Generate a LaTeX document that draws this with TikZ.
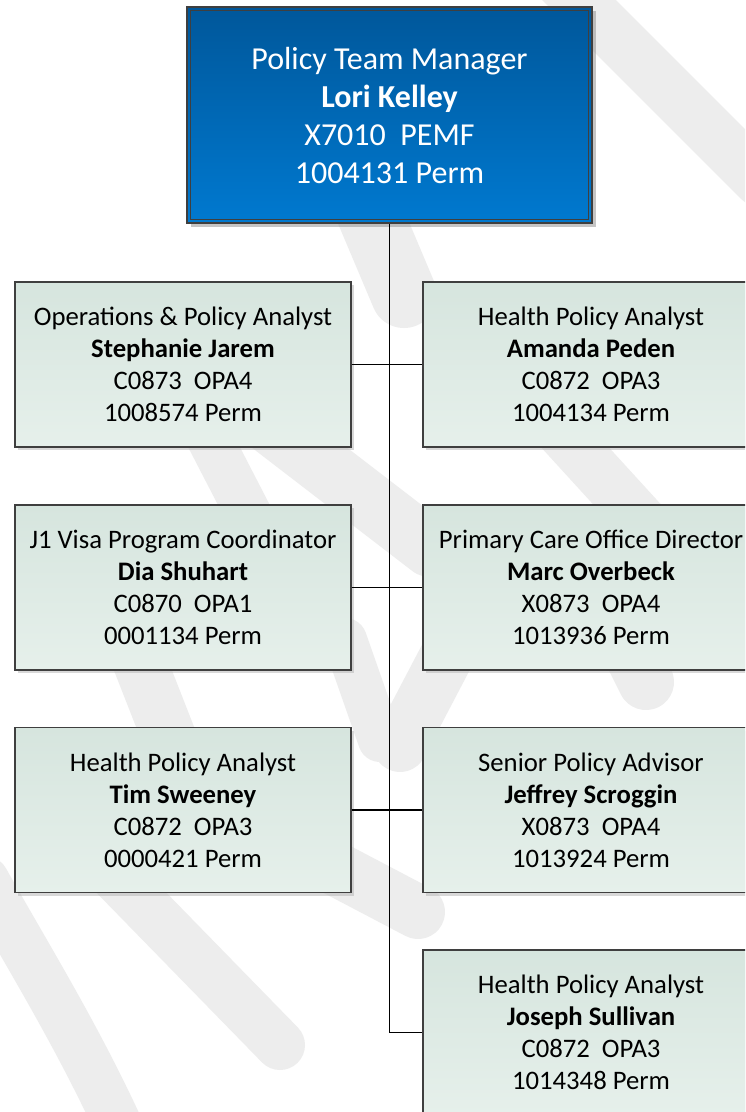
\documentclass[tikz,border=0pt]{standalone}
\usepackage{fontspec}
\setmainfont{Carlito}
\usetikzlibrary{positioning,shadows}

\definecolor{mgrtop}{HTML}{00579A}
\definecolor{mgrbot}{HTML}{0079D0}
\definecolor{stafftop}{HTML}{D6E5DE}
\definecolor{staffbot}{HTML}{E6F0EB}
\definecolor{edgegray}{HTML}{3F3F3F}
\definecolor{wgray}{HTML}{EDEDED}

\begin{document}
\begin{tikzpicture}[x=1pt, y=-1pt,
    staff/.style={rectangle, draw=edgegray, line width=1.1pt,
        top color=stafftop, bottom color=staffbot,
        minimum width=336pt, minimum height=165pt, align=center,
        font=\fontsize{26.7}{32}\selectfont,
        drop shadow={shadow xshift=3pt, shadow yshift=-3pt, fill=black!30}},
    boss/.style={rectangle, draw=edgegray, line width=1.4pt,
        top color=mgrtop, bottom color=mgrbot, text=white,
        minimum width=405pt, minimum height=216pt, align=center,
        font=\fontsize{32}{38}\selectfont,
        drop shadow={shadow xshift=4pt, shadow yshift=-4pt, fill=black!45}},
    wstroke/.style={draw=wgray, line cap=round},
    link/.style={line width=1.8pt}]
    \clip (0,0) rectangle (745,1112);
    \fill[white] (0,0) rectangle (745,1112);

    % watermark strokes
    \draw[wstroke, line width=52pt] (560,-19) -- (760,181);
    \draw[wstroke, line width=66pt] (366,205) -- (404,295);
    \draw[wstroke, line width=46pt] (200,420) -- (262,540);
    \draw[wstroke, line width=58pt] (270,425) -- (430,548);
    \draw[wstroke, line width=50pt] (550,420) -- (655,535);
    \draw[wstroke, line width=54pt] (133,645) -- (180,765);
    \draw[wstroke, line width=44pt] (345,640) -- (380,740);
    \draw[wstroke, line width=54pt] (455,640) -- (400,745);
    \draw[wstroke, line width=56pt] (610,610) -- (646,682);
    \draw[wstroke, line width=48pt] (-15,880) .. controls (30,960) and (80,1040) .. (125,1140);
    \draw[wstroke, line width=50pt] (80,840) -- (280,1045);
    \draw[wstroke, line width=54pt] (300,850) -- (418,912);

    \node[boss] (mgr) at (389.5,115) {Policy Team Manager\\\textbf{Lori Kelley}\\X7010~~PEMF\\1004131 Perm};
    \draw[edgegray, line width=1.1pt] ([shift={(4pt,-4pt)}]mgr.north west) rectangle ([shift={(-4pt,4pt)}]mgr.south east);

    \node[staff] (sj) at (183,364.5) {Operations \& Policy Analyst\\\textbf{Stephanie Jarem}\\C0873~~OPA4\\1008574 Perm};
    \node[staff] (ap) at (591,364.5) {Health Policy Analyst\\\textbf{Amanda Peden}\\C0872~~OPA3\\1004134 Perm};
    \node[staff] (ds) at (183,587.5) {J1 Visa Program Coordinator\\\textbf{Dia Shuhart}\\C0870~~OPA1\\0001134 Perm};
    \node[staff] (mo) at (591,587.5) {Primary Care Office Director\\\textbf{Marc Overbeck}\\X0873~~OPA4\\1013936 Perm};
    \node[staff] (ts) at (183,810) {Health Policy Analyst\\\textbf{Tim Sweeney}\\C0872~~OPA3\\0000421 Perm};
    \node[staff] (jsc) at (591,810) {Senior Policy Advisor\\\textbf{Jeffrey Scroggin}\\X0873~~OPA4\\1013924 Perm};
    \node[staff] (jsu) at (591,1032.5) {Health Policy Analyst\\\textbf{Joseph Sullivan}\\C0872~~OPA3\\1014348 Perm};

    \coordinate (last) at (mgr.south |- jsu.west);

    % trunk and branches
    \draw[link] (mgr.south) -- (last) -- (jsu.west);
    \foreach \from/\to in {sj/ap, ds/mo, ts/jsc}
        \draw[link] (\from) -- (\to);
\end{tikzpicture}
\end{document}
